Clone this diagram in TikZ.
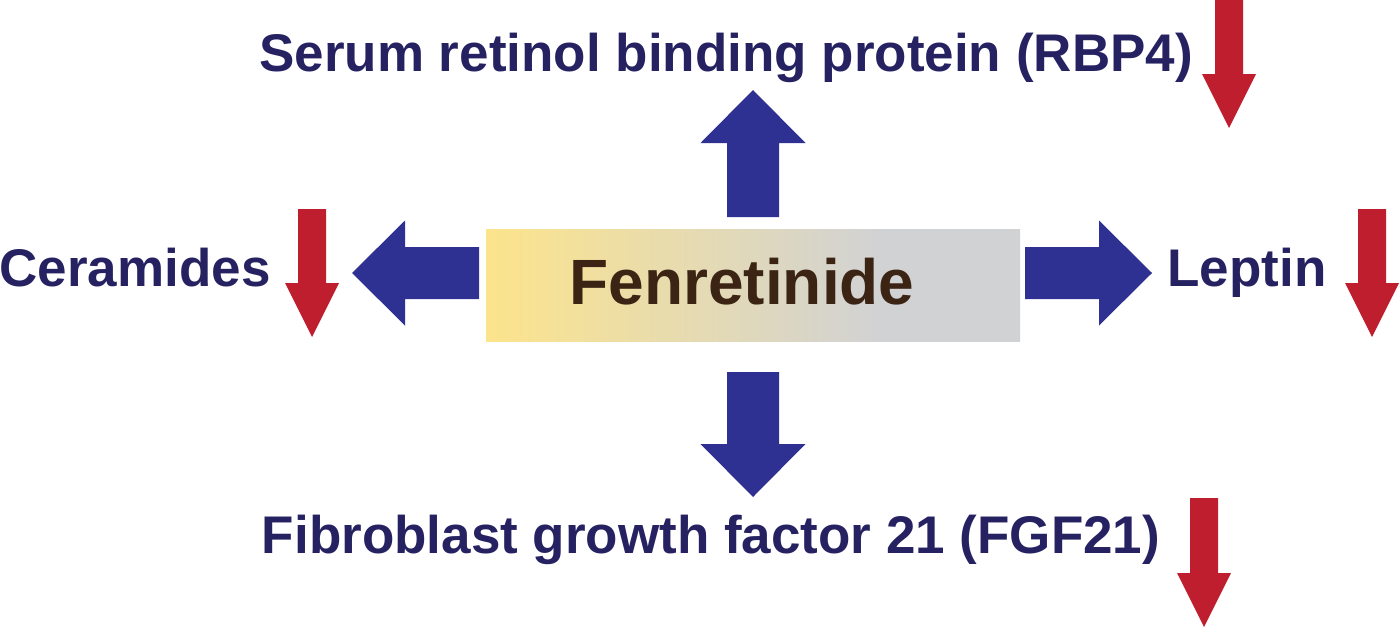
\documentclass[tikz,border=0pt]{standalone}
\usepackage{fontspec}
\setmainfont{Liberation Sans}
\usepackage{tikz}
\usetikzlibrary{positioning}

\definecolor{arrblue}{HTML}{2E3192}
\definecolor{arrred}{HTML}{BE1E2D}
\definecolor{txtnavy}{HTML}{262262}
\definecolor{txtbrown}{HTML}{3C2415}
\definecolor{fenyellow}{HTML}{FCE48C}
\definecolor{fengray}{HTML}{D1D2D4}
\pgfdeclarehorizontalshading{fenshade}{100bp}{color(0bp)=(fenyellow); color(25bp)=(fenyellow); color(62bp)=(fengray); color(100bp)=(fengray)}

\tikzset{
  lbl/.style={anchor=base,inner sep=0pt,text=txtnavy,font=\fontsize{53}{60}\selectfont\bfseries},
  drugbox/.style={shading=fenshade,minimum width=534pt,minimum height=112pt,inner sep=0pt,text=txtbrown,font=\fontsize{64}{72}\selectfont\bfseries}
}

\begin{document}
\begin{tikzpicture}[x=1pt,y=-1pt]
\useasboundingbox (0,0) rectangle (1400,627);
\node[drugbox] (fen) at (753,285) {\hspace*{-22pt}\raisebox{7pt}{Fenretinide}};
\node[lbl] (rbp) at (726,71) {Serum retinol binding protein (RBP4)};
\node[lbl] (cer) at (135,286) {Ceramides};
\node[lbl] (lep) at (1247,286) {Leptin};
\node[lbl] (fgf) at (711,553) {Fibroblast growth factor 21 (FGF21)};
% block arrows out of the drug box
\foreach \x/\y/\a/\l in {753/217/90/127,753/372/-90/125,479/273/180/127,1025/273/0/127}{\fill[arrblue,shift={(\x,\y)},rotate=\a] (0,-26) -- (\l-53,-26) -- (\l-53,-52.5) -- (\l,0) -- (\l-53,52.5) -- (\l-53,26) -- (0,26) -- cycle;}
% decrease marks
\foreach \x/\y/\l in {1229/0/128,312/209/128,1372/209/128,1204/498/129}{\fill[arrred,shift={(\x,\y)},rotate=-90] (0,-14) -- (\l-54,-14) -- (\l-54,-27) -- (\l,0) -- (\l-54,27) -- (\l-54,14) -- (0,14) -- cycle;}
\end{tikzpicture}
\end{document}
